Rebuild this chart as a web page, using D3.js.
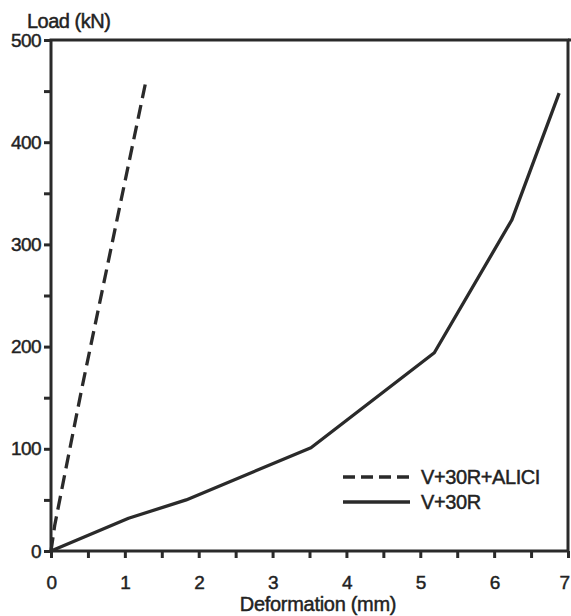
<!DOCTYPE html>
<html>
<head>
<meta charset="utf-8">
<script src="https://cdn.jsdelivr.net/npm/d3@7.9.0/dist/d3.min.js"></script>
<style>
  html, body { margin: 0; padding: 0; background: #fff; }
  svg { display: block; font-family: "Liberation Sans", Arial, sans-serif; }
  svg text { stroke: #222; stroke-width: 0.45; }
  .axis text { fill: #222; font-size: 19px; }
  .axis line { stroke: #2a2a2a; stroke-width: 3; }
</style>
</head>
<body>
<svg id="chart" width="571" height="616"></svg>
<script>
// load-deformation data
const seriesNames = ['V+30R+ALICI', 'V+30R'];
const alDeform = [0, 0.05, 0.2, 0.42, 1.28];
const alLoad = [0, 25, 80, 160, 458];
const vDeform = [0, 1.05, 1.83, 3.52, 5.19, 6.24, 6.88];
const vLoad = [0, 32, 50, 101, 194, 324, 448];
const xTicks = d3.range(0, 7.01, 0.5);
const yTicks = d3.range(0, 501, 50);

const svg = d3.select('#chart');
const x = d3.scaleLinear().domain([0, 7]).range([51, 568]);
const y = d3.scaleLinear().domain([0, 500]).range([551, 40]);
const ink = '#2a2a2a';

// axes
svg.append('g')
  .attr('class', 'axis')
  .attr('transform', `translate(0,${y(0)})`)
  .call(d3.axisBottom(x)
    .tickValues(xTicks)
    .tickSize(7)
    .tickSizeOuter(0)
    .tickPadding(18)
    .tickFormat((d) => (Number.isInteger(d) ? d : '')))
  .call((g) => g.select('.domain').remove())
  .call((g) => g.selectAll('.tick text')
    .filter((d) => d === 7)
    .attr('dx', -4));

svg.append('g')
  .attr('class', 'axis')
  .attr('transform', `translate(${x(0)},0)`)
  .call(d3.axisLeft(y)
    .tickValues(yTicks)
    .tickSize(7)
    .tickSizeOuter(0)
    .tickPadding(3)
    .tickFormat((d) => (d % 100 === 0 ? d : '')))
  .call((g) => g.select('.domain').remove());

svg.selectAll('.axis text').attr('letter-spacing', '-0.6');

// frame
svg.append('rect')
  .attr('x', x(0))
  .attr('y', y(500))
  .attr('width', x(7) - x(0))
  .attr('height', y(0) - y(500))
  .attr('fill', 'none')
  .attr('stroke', ink)
  .attr('stroke-width', 3);

svg.append('line')
  .attr('x1', x(7)).attr('x2', 571)
  .attr('y1', y(500)).attr('y2', y(500))
  .attr('stroke', ink).attr('stroke-width', 3);

// curves
const line = d3.line()
  .x((d) => x(d[0]))
  .y((d) => y(d[1]));

svg.append('path')
  .datum(alDeform.map((d, i) => [d, alLoad[i]]))
  .attr('d', line)
  .attr('fill', 'none')
  .attr('stroke', ink)
  .attr('stroke-width', 3.3)
  .attr('stroke-dasharray', '14,7');

svg.append('path')
  .datum(vDeform.map((d, i) => [d, vLoad[i]]))
  .attr('d', line)
  .attr('fill', 'none')
  .attr('stroke', ink)
  .attr('stroke-width', 3.3)
  .attr('stroke-linejoin', 'round');

// axis titles
svg.append('text')
  .attr('x', 27)
  .attr('y', 28)
  .attr('font-size', 20)
  .attr('letter-spacing', '-0.5')
  .attr('fill', '#222')
  .text('Load (kN)');

svg.append('text')
  .attr('x', 318)
  .attr('y', 611)
  .attr('text-anchor', 'middle')
  .attr('font-size', 20)
  .attr('letter-spacing', '-0.3')
  .attr('fill', '#222')
  .text('Deformation (mm)');

// legend
const legend = svg.append('g');
seriesNames.forEach((name, i) => {
  const ly = 477 + i * 25;
  legend.append('line')
    .attr('x1', 343).attr('x2', 410)
    .attr('y1', ly).attr('y2', ly)
    .attr('stroke', ink)
    .attr('stroke-width', 3.3)
    .attr('stroke-dasharray', i === 0 ? '12,6' : null);
  legend.append('text')
    .attr('x', 421)
    .attr('y', ly + 7)
    .attr('font-size', 20)
    .attr('letter-spacing', '-0.4')
    .attr('fill', '#222')
    .text(name);
});
</script>
</body>
</html>
